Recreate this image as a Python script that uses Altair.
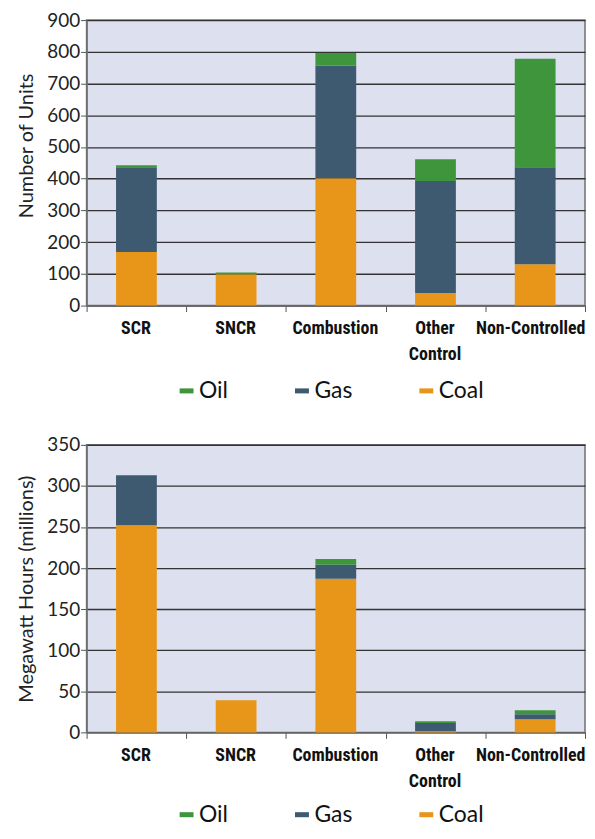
import altair as alt
import pandas as pd

categories = ["SCR", "SNCR", "Combustion", "Other Control", "Non-Controlled"]
fuels = ["Oil", "Gas", "Coal"]
fuel_colors = ["#3F953C", "#3E5A70", "#E8961A"]

units_coal = [169, 99, 401, 40, 130]
units_gas = [267, 0, 356, 353, 306]
units_oil = [6, 5, 39, 68, 342]
units_ticks = [0, 100, 200, 300, 400, 500, 600, 700, 800, 900]

mwh_coal = [252, 39, 187, 1.5, 16]
mwh_gas = [61, 0, 17, 10, 6]
mwh_oil = [0, 0, 7, 2, 5]
mwh_ticks = [0, 50, 100, 150, 200, 250, 300, 350]

stack_rank = {"Coal": 0, "Gas": 1, "Oil": 2}


def long_table(coal, gas, oil):
    rows = []
    for i, c in enumerate(categories):
        for f, vals in (("Coal", coal), ("Gas", gas), ("Oil", oil)):
            rows.append({"cat": c, "fuel": f, "value": vals[i], "ord": stack_rank[f]})
    return pd.DataFrame(rows)


def panel(df, title, ticks, legend_y, height, title_y=None):
    yaxis = alt.Axis(values=ticks, title=title)
    if title_y is not None:
        yaxis = alt.Axis(values=ticks, title=title, titleY=title_y)
    return alt.Chart(df).mark_bar(size=41).encode(
        x=alt.X("cat:N", sort=categories,
                scale=alt.Scale(paddingInner=0, paddingOuter=0),
                axis=alt.Axis(
                    title=None, labelAngle=0, tickBand="extent",
                    labelExpr="datum.label == 'Other Control' ? ['Other', 'Control'] : datum.label",
                    labelOffset={"condition": {"test": "datum.label == 'Non-Controlled'",
                                               "value": -5}, "value": -1},
                )),
        y=alt.Y("value:Q", stack="zero",
                scale=alt.Scale(domain=[ticks[0], ticks[-1]], nice=False),
                axis=yaxis),
        color=alt.Color("fuel:N",
                        scale=alt.Scale(domain=fuels, range=fuel_colors),
                        legend=alt.Legend(title=None, orient="none",
                                          direction="horizontal",
                                          legendX=89, legendY=legend_y)),
        order=alt.Order("ord:Q", sort="ascending"),
    ).properties(width=501, height=height)


top = panel(long_table(units_coal, units_gas, units_oil), "Number of Units",
            units_ticks, 361, 287, title_y=126)
bottom = panel(long_table(mwh_coal, mwh_gas, mwh_oil), "Megawatt Hours (millions)",
               mwh_ticks, 360, 289)

chart = alt.vconcat(top, bottom, spacing=31).resolve_scale(
    color="independent"
).resolve_legend(
    color="independent"
).properties(
    padding={"top": 0, "left": 8, "right": 0, "bottom": 0}
).configure_view(
    fill="#DDE0EF", stroke="#707070", strokeWidth=1.5
).configure_axisX(
    labelFont="Roboto Condensed, DejaVu Sans Condensed", labelFontWeight="bold",
    labelFontSize=18,
    labelColor="#111", labelPadding=8, labelLineHeight=26, tickSize=6,
    tickColor="#555", domainColor="#707070", domainWidth=1.5, grid=False,
).configure_axisY(
    labelFont="Lato", labelFontSize=19, labelColor="#222", labelPadding=1,
    tickSize=6, tickColor="#555", domainColor="#707070", domainWidth=1.5,
    titleFont="Lato", titleFontSize=20, titleFontWeight="normal",
    titleColor="#222", titlePadding=10,
    grid=True, gridColor="#333", gridWidth=1.3,
).configure_legend(
    labelFont="Lato", labelFontSize=23, labelColor="#111", labelOffset=1,
    symbolType="M-1,-0.36L1,-0.36L1,0.36L-1,0.36Z", symbolSize=196,
    symbolStrokeWidth=0, columnPadding=62, padding=0,
)

chart.save("out.html", embed_options={"renderer": "svg", "actions": False})
